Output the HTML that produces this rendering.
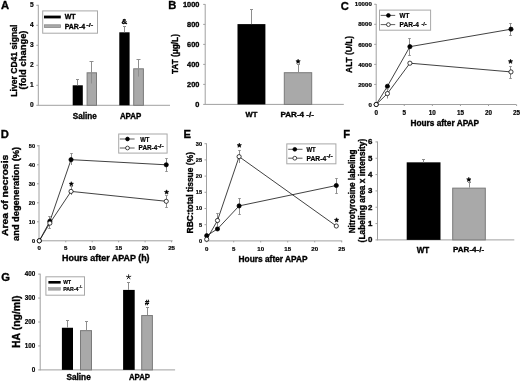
<!DOCTYPE html>
<html><head><meta charset="utf-8"><style>
html,body{margin:0;padding:0;background:#fff;width:520px;height:381px;overflow:hidden}
svg{display:block}
text{font-family:"Liberation Sans", sans-serif;stroke:#000;stroke-width:0.34px;paint-order:stroke}
svg{will-change:transform;filter:blur(0.3px)}
</style></head><body>
<svg width="520" height="381" viewBox="0 0 520 381">
<rect width="520" height="381" fill="#fff"/>
<text x="0.9" y="9.11" font-size="11.2" text-anchor="start" font-weight="bold" fill="#000">A</text>
<line x1="38.3" y1="4.8" x2="38.3" y2="105.8" stroke="#a0a0a0" stroke-width="1"/>
<line x1="38.3" y1="105.3" x2="170" y2="105.3" stroke="#a0a0a0" stroke-width="1"/>
<line x1="36.3" y1="105.3" x2="38.3" y2="105.3" stroke="#a0a0a0" stroke-width="1"/>
<text x="33.6" y="107.06" font-size="6.6" text-anchor="end" font-weight="bold" fill="#000" style="stroke-width:0.2px">0</text>
<line x1="36.3" y1="85.3" x2="38.3" y2="85.3" stroke="#a0a0a0" stroke-width="1"/>
<text x="33.6" y="87.06" font-size="6.6" text-anchor="end" font-weight="bold" fill="#000" style="stroke-width:0.2px">1</text>
<line x1="36.3" y1="65.3" x2="38.3" y2="65.3" stroke="#a0a0a0" stroke-width="1"/>
<text x="33.6" y="67.06" font-size="6.6" text-anchor="end" font-weight="bold" fill="#000" style="stroke-width:0.2px">2</text>
<line x1="36.3" y1="45.3" x2="38.3" y2="45.3" stroke="#a0a0a0" stroke-width="1"/>
<text x="33.6" y="47.06" font-size="6.6" text-anchor="end" font-weight="bold" fill="#000" style="stroke-width:0.2px">3</text>
<line x1="36.3" y1="25.3" x2="38.3" y2="25.3" stroke="#a0a0a0" stroke-width="1"/>
<text x="33.6" y="27.06" font-size="6.6" text-anchor="end" font-weight="bold" fill="#000" style="stroke-width:0.2px">4</text>
<line x1="36.3" y1="5.3" x2="38.3" y2="5.3" stroke="#a0a0a0" stroke-width="1"/>
<text x="33.6" y="7.06" font-size="6.6" text-anchor="end" font-weight="bold" fill="#000" style="stroke-width:0.2px">5</text>
<rect x="72.7" y="85.3" width="10.1" height="20" fill="#000"/>
<line x1="77.5" y1="79.5" x2="77.5" y2="85.3" stroke="#8e8e8e" stroke-width="1"/>
<line x1="76" y1="79.5" x2="79" y2="79.5" stroke="#8e8e8e" stroke-width="1"/>
<rect x="87.1" y="72.8" width="9.4" height="32.5" fill="#a9a9a9" stroke="#7a7a7a" stroke-width="1"/>
<line x1="91.5" y1="61.5" x2="91.5" y2="83.5" stroke="#8e8e8e" stroke-width="1"/>
<line x1="89.5" y1="61.5" x2="93.5" y2="61.5" stroke="#8e8e8e" stroke-width="1"/>
<rect x="119.3" y="32.3" width="10.3" height="73" fill="#000"/>
<line x1="124.5" y1="26.5" x2="124.5" y2="32.3" stroke="#8e8e8e" stroke-width="1"/>
<line x1="123" y1="26.5" x2="126" y2="26.5" stroke="#8e8e8e" stroke-width="1"/>
<rect x="133.7" y="68.8" width="9.7" height="36.5" fill="#a9a9a9" stroke="#7a7a7a" stroke-width="1"/>
<line x1="138.5" y1="59.5" x2="138.5" y2="76.6" stroke="#8e8e8e" stroke-width="1"/>
<line x1="136.5" y1="59.5" x2="140.5" y2="59.5" stroke="#8e8e8e" stroke-width="1"/>
<text x="124.4" y="24.43" font-size="7.9" text-anchor="middle" font-weight="bold" fill="#000">&amp;</text>
<rect x="42.7" y="10.9" width="54.8" height="22.3" fill="#fff" stroke="#a8a8a8" stroke-width="1"/>
<rect x="44" y="15.6" width="16.8" height="2.8" fill="#000"/>
<rect x="44.4" y="24.8" width="16" height="2.8" fill="#a9a9a9" stroke="#8a8a8a" stroke-width="0.8"/>
<text x="64.7" y="19.31" font-size="7.3" text-anchor="start" font-weight="bold" fill="#000" textLength="11" lengthAdjust="spacingAndGlyphs">WT</text>
<text x="64.7" y="28.81" font-size="7.3" text-anchor="start" font-weight="bold" fill="#000" textLength="20.4" lengthAdjust="spacingAndGlyphs">PAR-4</text>
<text x="86.3" y="27.3" font-size="5.6" text-anchor="start" font-weight="bold" fill="#000" textLength="7" lengthAdjust="spacingAndGlyphs" style="stroke-width:0.2px">-/-</text>
<text x="84.8" y="119.14" font-size="8.2" text-anchor="middle" font-weight="bold" fill="#000" textLength="24" lengthAdjust="spacingAndGlyphs">Saline</text>
<text x="130.6" y="119.14" font-size="8.2" text-anchor="middle" font-weight="bold" fill="#000" textLength="21.4" lengthAdjust="spacingAndGlyphs">APAP</text>
<text transform="translate(17.2,60.7) rotate(-90)" x="0" y="0" font-size="9.4" text-anchor="middle" font-weight="bold" textLength="72" lengthAdjust="spacingAndGlyphs">Liver CD41 signal</text>
<text transform="translate(25.6,60) rotate(-90)" x="0" y="0" font-size="9.4" text-anchor="middle" font-weight="bold" textLength="59" lengthAdjust="spacingAndGlyphs">(fold change)</text>
<text x="168.3" y="9.11" font-size="11.2" text-anchor="start" font-weight="bold" fill="#000">B</text>
<line x1="205.2" y1="4.2" x2="205.2" y2="104.9" stroke="#a0a0a0" stroke-width="1"/>
<line x1="205.2" y1="104.4" x2="343.8" y2="104.4" stroke="#a0a0a0" stroke-width="1"/>
<line x1="203.2" y1="104.4" x2="205.2" y2="104.4" stroke="#a0a0a0" stroke-width="1"/>
<text x="199.4" y="106.96" font-size="8" text-anchor="end" font-weight="bold" fill="#000" textLength="4.11" lengthAdjust="spacingAndGlyphs">0</text>
<line x1="203.2" y1="84.4" x2="205.2" y2="84.4" stroke="#a0a0a0" stroke-width="1"/>
<text x="199.4" y="86.96" font-size="8" text-anchor="end" font-weight="bold" fill="#000" textLength="12.34" lengthAdjust="spacingAndGlyphs">200</text>
<line x1="203.2" y1="64.4" x2="205.2" y2="64.4" stroke="#a0a0a0" stroke-width="1"/>
<text x="199.4" y="66.96" font-size="8" text-anchor="end" font-weight="bold" fill="#000" textLength="12.34" lengthAdjust="spacingAndGlyphs">400</text>
<line x1="203.2" y1="44.4" x2="205.2" y2="44.4" stroke="#a0a0a0" stroke-width="1"/>
<text x="199.4" y="46.96" font-size="8" text-anchor="end" font-weight="bold" fill="#000" textLength="12.34" lengthAdjust="spacingAndGlyphs">600</text>
<line x1="203.2" y1="24.4" x2="205.2" y2="24.4" stroke="#a0a0a0" stroke-width="1"/>
<text x="199.4" y="26.96" font-size="8" text-anchor="end" font-weight="bold" fill="#000" textLength="12.34" lengthAdjust="spacingAndGlyphs">800</text>
<line x1="203.2" y1="4.4" x2="205.2" y2="4.4" stroke="#a0a0a0" stroke-width="1"/>
<text x="199.4" y="6.96" font-size="8" text-anchor="end" font-weight="bold" fill="#000" textLength="16.46" lengthAdjust="spacingAndGlyphs">1000</text>
<rect x="237.5" y="24.1" width="27.9" height="80.3" fill="#000"/>
<line x1="251.5" y1="9.5" x2="251.5" y2="24.1" stroke="#8e8e8e" stroke-width="1"/>
<line x1="250" y1="9.5" x2="253" y2="9.5" stroke="#8e8e8e" stroke-width="1"/>
<rect x="284.3" y="72.7" width="27.4" height="31.7" fill="#a9a9a9" stroke="#7a7a7a" stroke-width="1"/>
<line x1="298.5" y1="64.5" x2="298.5" y2="72.2" stroke="#8e8e8e" stroke-width="1"/>
<line x1="297" y1="64.5" x2="300" y2="64.5" stroke="#8e8e8e" stroke-width="1"/>
<polygon points="298.1,59.15 298.75,60.61 300.33,60.77 299.15,61.84 299.48,63.4 298.1,62.6 296.72,63.4 297.05,61.84 295.87,60.77 297.45,60.61" fill="#000" stroke="#000" stroke-width="0.5" stroke-linejoin="round"/>
<text x="251.5" y="116.82" font-size="7.6" text-anchor="middle" font-weight="bold" fill="#000">WT</text>
<text x="297.2" y="116.82" font-size="7.6" text-anchor="middle" font-weight="bold" fill="#000" textLength="33.5" lengthAdjust="spacingAndGlyphs">PAR-4 -/-</text>
<text transform="translate(178.2,54.1) rotate(-90)" x="0" y="0" font-size="8.6" text-anchor="middle" font-weight="bold" textLength="40" lengthAdjust="spacingAndGlyphs">TAT (μg/L)</text>
<text x="340.7" y="9.51" font-size="11.2" text-anchor="start" font-weight="bold" fill="#000">C</text>
<line x1="376.2" y1="4" x2="376.2" y2="105" stroke="#a0a0a0" stroke-width="1"/>
<line x1="376.2" y1="104.5" x2="516.4" y2="104.5" stroke="#a0a0a0" stroke-width="1"/>
<line x1="374.2" y1="104.5" x2="376.2" y2="104.5" stroke="#a0a0a0" stroke-width="1"/>
<text x="371.8" y="106.68" font-size="6.1" text-anchor="end" font-weight="bold" fill="#000" style="stroke-width:0.2px">0</text>
<line x1="374.2" y1="84.45" x2="376.2" y2="84.45" stroke="#a0a0a0" stroke-width="1"/>
<text x="371.8" y="86.63" font-size="6.1" text-anchor="end" font-weight="bold" fill="#000" style="stroke-width:0.2px">2000</text>
<line x1="374.2" y1="64.4" x2="376.2" y2="64.4" stroke="#a0a0a0" stroke-width="1"/>
<text x="371.8" y="66.58" font-size="6.1" text-anchor="end" font-weight="bold" fill="#000" style="stroke-width:0.2px">4000</text>
<line x1="374.2" y1="44.35" x2="376.2" y2="44.35" stroke="#a0a0a0" stroke-width="1"/>
<text x="371.8" y="46.53" font-size="6.1" text-anchor="end" font-weight="bold" fill="#000" style="stroke-width:0.2px">6000</text>
<line x1="374.2" y1="24.3" x2="376.2" y2="24.3" stroke="#a0a0a0" stroke-width="1"/>
<text x="371.8" y="26.48" font-size="6.1" text-anchor="end" font-weight="bold" fill="#000" style="stroke-width:0.2px">8000</text>
<line x1="374.2" y1="4.25" x2="376.2" y2="4.25" stroke="#a0a0a0" stroke-width="1"/>
<text x="371.8" y="6.43" font-size="6.1" text-anchor="end" font-weight="bold" fill="#000" style="stroke-width:0.2px">10000</text>
<line x1="376.2" y1="104.5" x2="376.2" y2="106" stroke="#a0a0a0" stroke-width="1"/>
<text x="376.2" y="115.26" font-size="6.3" text-anchor="middle" font-weight="bold" fill="#000" style="stroke-width:0.2px">0</text>
<line x1="404.28" y1="104.5" x2="404.28" y2="106" stroke="#a0a0a0" stroke-width="1"/>
<text x="404.28" y="115.26" font-size="6.3" text-anchor="middle" font-weight="bold" fill="#000" style="stroke-width:0.2px">5</text>
<line x1="432.36" y1="104.5" x2="432.36" y2="106" stroke="#a0a0a0" stroke-width="1"/>
<text x="432.36" y="115.26" font-size="6.3" text-anchor="middle" font-weight="bold" fill="#000" style="stroke-width:0.2px">10</text>
<line x1="460.44" y1="104.5" x2="460.44" y2="106" stroke="#a0a0a0" stroke-width="1"/>
<text x="460.44" y="115.26" font-size="6.3" text-anchor="middle" font-weight="bold" fill="#000" style="stroke-width:0.2px">15</text>
<line x1="488.52" y1="104.5" x2="488.52" y2="106" stroke="#a0a0a0" stroke-width="1"/>
<text x="488.52" y="115.26" font-size="6.3" text-anchor="middle" font-weight="bold" fill="#000" style="stroke-width:0.2px">20</text>
<line x1="516.6" y1="104.5" x2="516.6" y2="106" stroke="#a0a0a0" stroke-width="1"/>
<text x="516.6" y="115.26" font-size="6.3" text-anchor="middle" font-weight="bold" fill="#000" style="stroke-width:0.2px">25</text>
<text x="444.8" y="126.01" font-size="8.4" text-anchor="middle" font-weight="bold" fill="#000" textLength="68.6" lengthAdjust="spacingAndGlyphs">Hours after APAP</text>
<text transform="translate(351.8,54.4) rotate(-90)" x="0" y="0" font-size="9" text-anchor="middle" font-weight="bold" textLength="37" lengthAdjust="spacingAndGlyphs">ALT (U/L)</text>
<line x1="409.5" y1="38.5" x2="409.5" y2="55.5" stroke="#8e8e8e" stroke-width="1"/>
<line x1="408.25" y1="38.5" x2="410.75" y2="38.5" stroke="#8e8e8e" stroke-width="1"/>
<line x1="408.25" y1="55.5" x2="410.75" y2="55.5" stroke="#8e8e8e" stroke-width="1"/>
<line x1="510.5" y1="23.5" x2="510.5" y2="35.5" stroke="#8e8e8e" stroke-width="1"/>
<line x1="509.25" y1="23.5" x2="511.75" y2="23.5" stroke="#8e8e8e" stroke-width="1"/>
<line x1="509.25" y1="35.5" x2="511.75" y2="35.5" stroke="#8e8e8e" stroke-width="1"/>
<line x1="510.5" y1="66.5" x2="510.5" y2="78.5" stroke="#8e8e8e" stroke-width="1"/>
<line x1="509.25" y1="66.5" x2="511.75" y2="66.5" stroke="#8e8e8e" stroke-width="1"/>
<line x1="509.25" y1="78.5" x2="511.75" y2="78.5" stroke="#8e8e8e" stroke-width="1"/>
<line x1="387.5" y1="89.5" x2="387.5" y2="98.5" stroke="#8e8e8e" stroke-width="1"/>
<line x1="386.5" y1="89.5" x2="388.5" y2="89.5" stroke="#8e8e8e" stroke-width="1"/>
<polyline points="376.2,104.5 387.43,86.25 409.9,46.66 510.98,29.21" fill="none" stroke="#111" stroke-width="0.8"/>
<polyline points="376.2,104.5 387.43,93.57 409.9,63.2 510.98,71.92" fill="none" stroke="#111" stroke-width="0.8"/>
<circle cx="376.2" cy="104.5" r="2.1" fill="#000" stroke="#000" stroke-width="0.75"/>
<circle cx="387.43" cy="86.25" r="2.1" fill="#000" stroke="#000" stroke-width="0.75"/>
<circle cx="409.9" cy="46.66" r="2.1" fill="#000" stroke="#000" stroke-width="0.75"/>
<circle cx="510.98" cy="29.21" r="2.1" fill="#000" stroke="#000" stroke-width="0.75"/>
<circle cx="376.2" cy="104.5" r="2.1" fill="#fff" stroke="#000" stroke-width="0.75"/>
<circle cx="387.43" cy="93.57" r="2.1" fill="#fff" stroke="#000" stroke-width="0.75"/>
<circle cx="409.9" cy="63.2" r="2.1" fill="#fff" stroke="#000" stroke-width="0.75"/>
<circle cx="510.98" cy="71.92" r="2.1" fill="#fff" stroke="#000" stroke-width="0.75"/>
<polygon points="510.5,59.15 511.15,60.61 512.73,60.77 511.55,61.84 511.88,63.4 510.5,62.6 509.12,63.4 509.45,61.84 508.27,60.77 509.85,60.61" fill="#000" stroke="#000" stroke-width="0.5" stroke-linejoin="round"/>
<rect x="379.5" y="10.1" width="51.1" height="20.1" fill="#fff" stroke="#a8a8a8" stroke-width="1"/>
<line x1="380.7" y1="15.4" x2="395.2" y2="15.4" stroke="#333" stroke-width="0.8"/>
<circle cx="388.4" cy="15.4" r="1.9" fill="#000" stroke="#000" stroke-width="0.7"/>
<line x1="380.7" y1="24.6" x2="395.2" y2="24.6" stroke="#333" stroke-width="0.8"/>
<circle cx="388.4" cy="24.6" r="1.9" fill="#fff" stroke="#000" stroke-width="0.7"/>
<text x="399.6" y="17.86" font-size="6.6" text-anchor="start" font-weight="bold" fill="#000" textLength="9.8" lengthAdjust="spacingAndGlyphs" style="stroke-width:0.2px">WT</text>
<text x="399.6" y="27.26" font-size="6.6" text-anchor="start" font-weight="bold" fill="#000" textLength="19.2" lengthAdjust="spacingAndGlyphs" style="stroke-width:0.2px">PAR-4</text>
<text x="421.5" y="25.79" font-size="5" text-anchor="start" font-weight="bold" fill="#000" textLength="5.2" lengthAdjust="spacingAndGlyphs" style="stroke-width:0.2px">-/-</text>
<text x="0.8" y="138.11" font-size="11.2" text-anchor="start" font-weight="bold" fill="#000">D</text>
<line x1="39" y1="145" x2="39" y2="241.3" stroke="#a0a0a0" stroke-width="1"/>
<line x1="39" y1="240.8" x2="172.6" y2="240.8" stroke="#a0a0a0" stroke-width="1"/>
<line x1="37" y1="240.8" x2="39" y2="240.8" stroke="#a0a0a0" stroke-width="1"/>
<text x="35" y="243" font-size="5.6" text-anchor="end" font-weight="bold" fill="#000" style="stroke-width:0.2px">0</text>
<line x1="37" y1="221.8" x2="39" y2="221.8" stroke="#a0a0a0" stroke-width="1"/>
<text x="35" y="224" font-size="5.6" text-anchor="end" font-weight="bold" fill="#000" style="stroke-width:0.2px">10</text>
<line x1="37" y1="202.8" x2="39" y2="202.8" stroke="#a0a0a0" stroke-width="1"/>
<text x="35" y="205" font-size="5.6" text-anchor="end" font-weight="bold" fill="#000" style="stroke-width:0.2px">20</text>
<line x1="37" y1="183.8" x2="39" y2="183.8" stroke="#a0a0a0" stroke-width="1"/>
<text x="35" y="186" font-size="5.6" text-anchor="end" font-weight="bold" fill="#000" style="stroke-width:0.2px">30</text>
<line x1="37" y1="164.8" x2="39" y2="164.8" stroke="#a0a0a0" stroke-width="1"/>
<text x="35" y="167" font-size="5.6" text-anchor="end" font-weight="bold" fill="#000" style="stroke-width:0.2px">40</text>
<line x1="37" y1="145.8" x2="39" y2="145.8" stroke="#a0a0a0" stroke-width="1"/>
<text x="35" y="148" font-size="5.6" text-anchor="end" font-weight="bold" fill="#000" style="stroke-width:0.2px">50</text>
<line x1="39.3" y1="240.8" x2="39.3" y2="242.3" stroke="#a0a0a0" stroke-width="1"/>
<text x="39.3" y="250.28" font-size="6.1" text-anchor="middle" font-weight="bold" fill="#000" style="stroke-width:0.2px">0</text>
<line x1="65.75" y1="240.8" x2="65.75" y2="242.3" stroke="#a0a0a0" stroke-width="1"/>
<text x="65.75" y="250.28" font-size="6.1" text-anchor="middle" font-weight="bold" fill="#000" style="stroke-width:0.2px">5</text>
<line x1="92.2" y1="240.8" x2="92.2" y2="242.3" stroke="#a0a0a0" stroke-width="1"/>
<text x="92.2" y="250.28" font-size="6.1" text-anchor="middle" font-weight="bold" fill="#000" style="stroke-width:0.2px">10</text>
<line x1="118.65" y1="240.8" x2="118.65" y2="242.3" stroke="#a0a0a0" stroke-width="1"/>
<text x="118.65" y="250.28" font-size="6.1" text-anchor="middle" font-weight="bold" fill="#000" style="stroke-width:0.2px">15</text>
<line x1="145.1" y1="240.8" x2="145.1" y2="242.3" stroke="#a0a0a0" stroke-width="1"/>
<text x="145.1" y="250.28" font-size="6.1" text-anchor="middle" font-weight="bold" fill="#000" style="stroke-width:0.2px">20</text>
<line x1="171.55" y1="240.8" x2="171.55" y2="242.3" stroke="#a0a0a0" stroke-width="1"/>
<text x="171.55" y="250.28" font-size="6.1" text-anchor="middle" font-weight="bold" fill="#000" style="stroke-width:0.2px">25</text>
<text x="105.8" y="260.81" font-size="8.4" text-anchor="middle" font-weight="bold" fill="#000" textLength="87.6" lengthAdjust="spacingAndGlyphs">Hours after APAP (h)</text>
<text transform="translate(8.3,195.4) rotate(-90)" x="0" y="0" font-size="8.6" text-anchor="middle" font-weight="bold" textLength="81.4" lengthAdjust="spacingAndGlyphs">Area of necrosis</text>
<text transform="translate(18.8,193.9) rotate(-90)" x="0" y="0" font-size="8.6" text-anchor="middle" font-weight="bold" textLength="94" lengthAdjust="spacingAndGlyphs">and degeneration (%)</text>
<line x1="71.5" y1="153.5" x2="71.5" y2="165" stroke="#8e8e8e" stroke-width="1"/>
<line x1="70.25" y1="153.5" x2="72.75" y2="153.5" stroke="#8e8e8e" stroke-width="1"/>
<line x1="166.5" y1="158.5" x2="166.5" y2="171.5" stroke="#8e8e8e" stroke-width="1"/>
<line x1="165.25" y1="158.5" x2="167.75" y2="158.5" stroke="#8e8e8e" stroke-width="1"/>
<line x1="165.25" y1="171.5" x2="167.75" y2="171.5" stroke="#8e8e8e" stroke-width="1"/>
<line x1="166.5" y1="195.5" x2="166.5" y2="207.5" stroke="#8e8e8e" stroke-width="1"/>
<line x1="165.25" y1="195.5" x2="167.75" y2="195.5" stroke="#8e8e8e" stroke-width="1"/>
<line x1="165.25" y1="207.5" x2="167.75" y2="207.5" stroke="#8e8e8e" stroke-width="1"/>
<line x1="71.5" y1="186.5" x2="71.5" y2="195" stroke="#8e8e8e" stroke-width="1"/>
<line x1="70.25" y1="186.5" x2="72.75" y2="186.5" stroke="#8e8e8e" stroke-width="1"/>
<line x1="49.5" y1="216.5" x2="49.5" y2="228.5" stroke="#8e8e8e" stroke-width="1"/>
<line x1="48.25" y1="216.5" x2="50.75" y2="216.5" stroke="#8e8e8e" stroke-width="1"/>
<line x1="48.25" y1="228.5" x2="50.75" y2="228.5" stroke="#8e8e8e" stroke-width="1"/>
<polyline points="39.3,240.8 49.88,221.23 71.04,159.67 166.26,164.8" fill="none" stroke="#111" stroke-width="0.8"/>
<polyline points="39.3,240.8 49.88,223.13 71.04,191.4 166.26,201.28" fill="none" stroke="#111" stroke-width="0.8"/>
<circle cx="39.3" cy="240.8" r="2.1" fill="#000" stroke="#000" stroke-width="0.75"/>
<circle cx="49.88" cy="221.23" r="2.1" fill="#000" stroke="#000" stroke-width="0.75"/>
<circle cx="71.04" cy="159.67" r="2.1" fill="#000" stroke="#000" stroke-width="0.75"/>
<circle cx="166.26" cy="164.8" r="2.1" fill="#000" stroke="#000" stroke-width="0.75"/>
<circle cx="39.3" cy="240.8" r="2.1" fill="#fff" stroke="#000" stroke-width="0.75"/>
<circle cx="49.88" cy="223.13" r="2.1" fill="#fff" stroke="#000" stroke-width="0.75"/>
<circle cx="71.04" cy="191.4" r="2.1" fill="#fff" stroke="#000" stroke-width="0.75"/>
<circle cx="166.26" cy="201.28" r="2.1" fill="#fff" stroke="#000" stroke-width="0.75"/>
<polygon points="71.3,181.65 71.95,183.11 73.53,183.27 72.35,184.34 72.68,185.9 71.3,185.1 69.92,185.9 70.25,184.34 69.07,183.27 70.65,183.11" fill="#000" stroke="#000" stroke-width="0.5" stroke-linejoin="round"/>
<polygon points="166.6,189.85 167.25,191.31 168.83,191.47 167.65,192.54 167.98,194.1 166.6,193.3 165.22,194.1 165.55,192.54 164.37,191.47 165.95,191.31" fill="#000" stroke="#000" stroke-width="0.5" stroke-linejoin="round"/>
<rect x="118.7" y="134" width="48.4" height="19.1" fill="#fff" stroke="#a8a8a8" stroke-width="1"/>
<line x1="119.8" y1="139" x2="134.6" y2="139" stroke="#333" stroke-width="0.8"/>
<circle cx="127.5" cy="139" r="1.9" fill="#000" stroke="#000" stroke-width="0.7"/>
<line x1="119.8" y1="148" x2="134.6" y2="148" stroke="#333" stroke-width="0.8"/>
<circle cx="127.5" cy="148" r="1.9" fill="#fff" stroke="#000" stroke-width="0.7"/>
<text x="140.2" y="141.63" font-size="6.5" text-anchor="start" font-weight="bold" fill="#000" textLength="9.2" lengthAdjust="spacingAndGlyphs" style="stroke-width:0.2px">WT</text>
<text x="138.6" y="150.43" font-size="6.5" text-anchor="start" font-weight="bold" fill="#000" textLength="18.7" lengthAdjust="spacingAndGlyphs" style="stroke-width:0.2px">PAR-4</text>
<text x="157.4" y="148.02" font-size="4.8" text-anchor="start" font-weight="bold" fill="#000" textLength="6.3" lengthAdjust="spacingAndGlyphs" style="stroke-width:0.2px">-/-</text>
<text x="183.4" y="137.81" font-size="11.2" text-anchor="start" font-weight="bold" fill="#000">E</text>
<line x1="206.5" y1="143.3" x2="206.5" y2="241.4" stroke="#a0a0a0" stroke-width="1"/>
<line x1="206.5" y1="240.9" x2="342.2" y2="240.9" stroke="#a0a0a0" stroke-width="1"/>
<line x1="204.5" y1="240.9" x2="206.5" y2="240.9" stroke="#a0a0a0" stroke-width="1"/>
<text x="202" y="242.8" font-size="5.6" text-anchor="end" font-weight="bold" fill="#000" style="stroke-width:0.2px">0</text>
<line x1="204.5" y1="224.7" x2="206.5" y2="224.7" stroke="#a0a0a0" stroke-width="1"/>
<text x="202" y="226.6" font-size="5.6" text-anchor="end" font-weight="bold" fill="#000" style="stroke-width:0.2px">5</text>
<line x1="204.5" y1="208.5" x2="206.5" y2="208.5" stroke="#a0a0a0" stroke-width="1"/>
<text x="202" y="210.4" font-size="5.6" text-anchor="end" font-weight="bold" fill="#000" style="stroke-width:0.2px">10</text>
<line x1="204.5" y1="192.3" x2="206.5" y2="192.3" stroke="#a0a0a0" stroke-width="1"/>
<text x="202" y="194.2" font-size="5.6" text-anchor="end" font-weight="bold" fill="#000" style="stroke-width:0.2px">15</text>
<line x1="204.5" y1="176.1" x2="206.5" y2="176.1" stroke="#a0a0a0" stroke-width="1"/>
<text x="202" y="178" font-size="5.6" text-anchor="end" font-weight="bold" fill="#000" style="stroke-width:0.2px">20</text>
<line x1="204.5" y1="159.9" x2="206.5" y2="159.9" stroke="#a0a0a0" stroke-width="1"/>
<text x="202" y="161.8" font-size="5.6" text-anchor="end" font-weight="bold" fill="#000" style="stroke-width:0.2px">25</text>
<line x1="204.5" y1="143.7" x2="206.5" y2="143.7" stroke="#a0a0a0" stroke-width="1"/>
<text x="202" y="145.6" font-size="5.6" text-anchor="end" font-weight="bold" fill="#000" style="stroke-width:0.2px">30</text>
<line x1="206.7" y1="240.9" x2="206.7" y2="242.4" stroke="#a0a0a0" stroke-width="1"/>
<text x="206.7" y="251.18" font-size="6.1" text-anchor="middle" font-weight="bold" fill="#000" style="stroke-width:0.2px">0</text>
<line x1="233.7" y1="240.9" x2="233.7" y2="242.4" stroke="#a0a0a0" stroke-width="1"/>
<text x="233.7" y="251.18" font-size="6.1" text-anchor="middle" font-weight="bold" fill="#000" style="stroke-width:0.2px">5</text>
<line x1="260.7" y1="240.9" x2="260.7" y2="242.4" stroke="#a0a0a0" stroke-width="1"/>
<text x="260.7" y="251.18" font-size="6.1" text-anchor="middle" font-weight="bold" fill="#000" style="stroke-width:0.2px">10</text>
<line x1="287.7" y1="240.9" x2="287.7" y2="242.4" stroke="#a0a0a0" stroke-width="1"/>
<text x="287.7" y="251.18" font-size="6.1" text-anchor="middle" font-weight="bold" fill="#000" style="stroke-width:0.2px">15</text>
<line x1="314.7" y1="240.9" x2="314.7" y2="242.4" stroke="#a0a0a0" stroke-width="1"/>
<text x="314.7" y="251.18" font-size="6.1" text-anchor="middle" font-weight="bold" fill="#000" style="stroke-width:0.2px">20</text>
<line x1="341.7" y1="240.9" x2="341.7" y2="242.4" stroke="#a0a0a0" stroke-width="1"/>
<text x="341.7" y="251.18" font-size="6.1" text-anchor="middle" font-weight="bold" fill="#000" style="stroke-width:0.2px">25</text>
<text x="273.1" y="261.61" font-size="8.4" text-anchor="middle" font-weight="bold" fill="#000" textLength="69" lengthAdjust="spacingAndGlyphs">Hours after APAP</text>
<text transform="translate(192.8,192.7) rotate(-90)" x="0" y="0" font-size="8.5" text-anchor="middle" font-weight="bold" textLength="81.5" lengthAdjust="spacingAndGlyphs">RBC:total tissue (%)</text>
<line x1="239.5" y1="198.5" x2="239.5" y2="214.5" stroke="#8e8e8e" stroke-width="1"/>
<line x1="238.25" y1="198.5" x2="240.75" y2="198.5" stroke="#8e8e8e" stroke-width="1"/>
<line x1="238.25" y1="214.5" x2="240.75" y2="214.5" stroke="#8e8e8e" stroke-width="1"/>
<line x1="336.5" y1="178.5" x2="336.5" y2="193.5" stroke="#8e8e8e" stroke-width="1"/>
<line x1="335.25" y1="178.5" x2="337.75" y2="178.5" stroke="#8e8e8e" stroke-width="1"/>
<line x1="335.25" y1="193.5" x2="337.75" y2="193.5" stroke="#8e8e8e" stroke-width="1"/>
<line x1="217.5" y1="213.5" x2="217.5" y2="226" stroke="#8e8e8e" stroke-width="1"/>
<line x1="216.25" y1="213.5" x2="218.75" y2="213.5" stroke="#8e8e8e" stroke-width="1"/>
<line x1="239.5" y1="150.5" x2="239.5" y2="163" stroke="#8e8e8e" stroke-width="1"/>
<line x1="238.25" y1="150.5" x2="240.75" y2="150.5" stroke="#8e8e8e" stroke-width="1"/>
<polyline points="206.7,235.72 217.5,228.91 239.1,205.91 336.3,185.5" fill="none" stroke="#111" stroke-width="0.8"/>
<polyline points="206.7,239.28 217.5,220.49 239.1,156.66 336.3,226" fill="none" stroke="#111" stroke-width="0.8"/>
<circle cx="206.7" cy="235.72" r="2.1" fill="#000" stroke="#000" stroke-width="0.75"/>
<circle cx="217.5" cy="228.91" r="2.1" fill="#000" stroke="#000" stroke-width="0.75"/>
<circle cx="239.1" cy="205.91" r="2.1" fill="#000" stroke="#000" stroke-width="0.75"/>
<circle cx="336.3" cy="185.5" r="2.1" fill="#000" stroke="#000" stroke-width="0.75"/>
<circle cx="206.7" cy="239.28" r="2.1" fill="#fff" stroke="#000" stroke-width="0.75"/>
<circle cx="217.5" cy="220.49" r="2.1" fill="#fff" stroke="#000" stroke-width="0.75"/>
<circle cx="239.1" cy="156.66" r="2.1" fill="#fff" stroke="#000" stroke-width="0.75"/>
<circle cx="336.3" cy="226" r="2.1" fill="#fff" stroke="#000" stroke-width="0.75"/>
<polygon points="239.3,143.05 239.95,144.51 241.53,144.67 240.35,145.74 240.68,147.3 239.3,146.5 237.92,147.3 238.25,145.74 237.07,144.67 238.65,144.51" fill="#000" stroke="#000" stroke-width="0.5" stroke-linejoin="round"/>
<polygon points="336.6,217.75 337.25,219.21 338.83,219.37 337.65,220.44 337.98,222 336.6,221.2 335.22,222 335.55,220.44 334.37,219.37 335.95,219.21" fill="#000" stroke="#000" stroke-width="0.5" stroke-linejoin="round"/>
<rect x="286.8" y="143.9" width="49.1" height="19.9" fill="#fff" stroke="#a8a8a8" stroke-width="1"/>
<line x1="288.2" y1="149.3" x2="302.5" y2="149.3" stroke="#333" stroke-width="0.8"/>
<circle cx="294.8" cy="149.3" r="1.9" fill="#000" stroke="#000" stroke-width="0.7"/>
<line x1="288.2" y1="158.2" x2="302.5" y2="158.2" stroke="#333" stroke-width="0.8"/>
<circle cx="294.8" cy="158.2" r="1.9" fill="#fff" stroke="#000" stroke-width="0.7"/>
<text x="306.5" y="151.63" font-size="6.5" text-anchor="start" font-weight="bold" fill="#000" textLength="9.2" lengthAdjust="spacingAndGlyphs" style="stroke-width:0.2px">WT</text>
<text x="306.5" y="160.53" font-size="6.5" text-anchor="start" font-weight="bold" fill="#000" textLength="19.7" lengthAdjust="spacingAndGlyphs" style="stroke-width:0.2px">PAR-4</text>
<text x="326.4" y="158.12" font-size="4.8" text-anchor="start" font-weight="bold" fill="#000" textLength="6.3" lengthAdjust="spacingAndGlyphs" style="stroke-width:0.2px">-/-</text>
<text x="343.2" y="138.11" font-size="11.2" text-anchor="start" font-weight="bold" fill="#000">F</text>
<line x1="377.5" y1="141.5" x2="377.5" y2="240.4" stroke="#a0a0a0" stroke-width="1"/>
<line x1="377.5" y1="239.9" x2="514.3" y2="239.9" stroke="#a0a0a0" stroke-width="1"/>
<line x1="375.5" y1="239.9" x2="377.5" y2="239.9" stroke="#a0a0a0" stroke-width="1"/>
<text x="372.3" y="242.33" font-size="7.9" text-anchor="end" font-weight="bold" fill="#000">0</text>
<line x1="375.5" y1="223.57" x2="377.5" y2="223.57" stroke="#a0a0a0" stroke-width="1"/>
<text x="372.3" y="226" font-size="7.9" text-anchor="end" font-weight="bold" fill="#000">1</text>
<line x1="375.5" y1="207.24" x2="377.5" y2="207.24" stroke="#a0a0a0" stroke-width="1"/>
<text x="372.3" y="209.67" font-size="7.9" text-anchor="end" font-weight="bold" fill="#000">2</text>
<line x1="375.5" y1="190.91" x2="377.5" y2="190.91" stroke="#a0a0a0" stroke-width="1"/>
<text x="372.3" y="193.34" font-size="7.9" text-anchor="end" font-weight="bold" fill="#000">3</text>
<line x1="375.5" y1="174.58" x2="377.5" y2="174.58" stroke="#a0a0a0" stroke-width="1"/>
<text x="372.3" y="177.01" font-size="7.9" text-anchor="end" font-weight="bold" fill="#000">4</text>
<line x1="375.5" y1="158.25" x2="377.5" y2="158.25" stroke="#a0a0a0" stroke-width="1"/>
<text x="372.3" y="160.68" font-size="7.9" text-anchor="end" font-weight="bold" fill="#000">5</text>
<line x1="375.5" y1="141.92" x2="377.5" y2="141.92" stroke="#a0a0a0" stroke-width="1"/>
<text x="372.3" y="144.35" font-size="7.9" text-anchor="end" font-weight="bold" fill="#000">6</text>
<rect x="406.7" y="162.33" width="33.8" height="77.57" fill="#000"/>
<line x1="423.5" y1="159.5" x2="423.5" y2="162.33" stroke="#8e8e8e" stroke-width="1"/>
<line x1="422" y1="159.5" x2="425" y2="159.5" stroke="#8e8e8e" stroke-width="1"/>
<rect x="452.7" y="188.14" width="32.6" height="51.76" fill="#a9a9a9" stroke="#7a7a7a" stroke-width="1"/>
<line x1="469.5" y1="182.5" x2="469.5" y2="187.64" stroke="#8e8e8e" stroke-width="1"/>
<line x1="468" y1="182.5" x2="471" y2="182.5" stroke="#8e8e8e" stroke-width="1"/>
<polygon points="468.8,177.25 469.45,178.71 471.03,178.87 469.85,179.94 470.18,181.5 468.8,180.7 467.42,181.5 467.75,179.94 466.57,178.87 468.15,178.71" fill="#000" stroke="#000" stroke-width="0.5" stroke-linejoin="round"/>
<text x="423" y="252.54" font-size="8.2" text-anchor="middle" font-weight="bold" fill="#000" textLength="12.6" lengthAdjust="spacingAndGlyphs">WT</text>
<text x="468.6" y="252.46" font-size="8" text-anchor="middle" font-weight="bold" fill="#000" textLength="31" lengthAdjust="spacingAndGlyphs">PAR-4-/-</text>
<text transform="translate(354.6,191.4) rotate(-90)" x="0" y="0" font-size="8.4" text-anchor="middle" font-weight="bold" textLength="83.8" lengthAdjust="spacingAndGlyphs">Nitrotyrosine labeling</text>
<text transform="translate(365.3,190.6) rotate(-90)" x="0" y="0" font-size="8.2" text-anchor="middle" font-weight="bold" textLength="103.6" lengthAdjust="spacingAndGlyphs">(Labeling area x intensity)</text>
<text x="1.3" y="280.51" font-size="11.2" text-anchor="start" font-weight="bold" fill="#000">G</text>
<line x1="40.2" y1="273.7" x2="40.2" y2="370.4" stroke="#a0a0a0" stroke-width="1"/>
<line x1="40.2" y1="369.9" x2="175.1" y2="369.9" stroke="#a0a0a0" stroke-width="1"/>
<line x1="38.2" y1="369.9" x2="40.2" y2="369.9" stroke="#a0a0a0" stroke-width="1"/>
<text x="35.2" y="372.16" font-size="6.3" text-anchor="end" font-weight="bold" fill="#000" style="stroke-width:0.2px">0</text>
<line x1="38.2" y1="345.95" x2="40.2" y2="345.95" stroke="#a0a0a0" stroke-width="1"/>
<text x="35.2" y="348.21" font-size="6.3" text-anchor="end" font-weight="bold" fill="#000" style="stroke-width:0.2px">100</text>
<line x1="38.2" y1="322" x2="40.2" y2="322" stroke="#a0a0a0" stroke-width="1"/>
<text x="35.2" y="324.26" font-size="6.3" text-anchor="end" font-weight="bold" fill="#000" style="stroke-width:0.2px">200</text>
<line x1="38.2" y1="298.05" x2="40.2" y2="298.05" stroke="#a0a0a0" stroke-width="1"/>
<text x="35.2" y="300.31" font-size="6.3" text-anchor="end" font-weight="bold" fill="#000" style="stroke-width:0.2px">300</text>
<line x1="38.2" y1="274.1" x2="40.2" y2="274.1" stroke="#a0a0a0" stroke-width="1"/>
<text x="35.2" y="276.36" font-size="6.3" text-anchor="end" font-weight="bold" fill="#000" style="stroke-width:0.2px">400</text>
<rect x="61.9" y="327.75" width="11.1" height="42.15" fill="#000"/>
<line x1="67.5" y1="320.5" x2="67.5" y2="327.75" stroke="#8e8e8e" stroke-width="1"/>
<line x1="66" y1="320.5" x2="69" y2="320.5" stroke="#8e8e8e" stroke-width="1"/>
<rect x="80.5" y="330.64" width="11" height="39.26" fill="#a9a9a9" stroke="#7a7a7a" stroke-width="1"/>
<line x1="86.5" y1="321.5" x2="86.5" y2="330.14" stroke="#8e8e8e" stroke-width="1"/>
<line x1="85" y1="321.5" x2="88" y2="321.5" stroke="#8e8e8e" stroke-width="1"/>
<rect x="123.1" y="289.91" width="11.6" height="79.99" fill="#000"/>
<line x1="128.5" y1="282.5" x2="128.5" y2="289.91" stroke="#8e8e8e" stroke-width="1"/>
<line x1="127" y1="282.5" x2="130" y2="282.5" stroke="#8e8e8e" stroke-width="1"/>
<rect x="141.7" y="315.55" width="10.7" height="54.35" fill="#a9a9a9" stroke="#7a7a7a" stroke-width="1"/>
<line x1="147.5" y1="307.5" x2="147.5" y2="315.05" stroke="#8e8e8e" stroke-width="1"/>
<line x1="146" y1="307.5" x2="149" y2="307.5" stroke="#8e8e8e" stroke-width="1"/>
<path d="M128.6,277L128.6,274.7M128.6,277L130.79,276.29M128.6,277L129.95,278.86M128.6,277L127.25,278.86M128.6,277L126.41,276.29" stroke="#111" stroke-width="0.85" stroke-linecap="round" fill="none"/>
<text x="147" y="305.12" font-size="7.6" text-anchor="middle" font-weight="bold" fill="#000">#</text>
<rect x="45.9" y="276.8" width="38.6" height="18.4" fill="#fff" stroke="#a8a8a8" stroke-width="1"/>
<rect x="48.4" y="281" width="12.3" height="2.6" fill="#000"/>
<rect x="48.6" y="287.6" width="11.9" height="2.6" fill="#a9a9a9" stroke="#999" stroke-width="0.6"/>
<text x="63.2" y="284.17" font-size="5.5" text-anchor="start" font-weight="bold" fill="#000" textLength="7.8" lengthAdjust="spacingAndGlyphs" style="stroke-width:0.2px">WT</text>
<text x="63.2" y="291.17" font-size="5.5" text-anchor="start" font-weight="bold" fill="#000" textLength="15.2" lengthAdjust="spacingAndGlyphs" style="stroke-width:0.2px">PAR-4</text>
<text x="78.6" y="288.33" font-size="4" text-anchor="start" font-weight="bold" fill="#000" style="stroke-width:0.2px">-/-</text>
<text x="78.6" y="380.21" font-size="8.4" text-anchor="middle" font-weight="bold" fill="#000" textLength="24.3" lengthAdjust="spacingAndGlyphs">Saline</text>
<text x="139.5" y="380.21" font-size="8.4" text-anchor="middle" font-weight="bold" fill="#000" textLength="21.2" lengthAdjust="spacingAndGlyphs">APAP</text>
<text transform="translate(19.6,321.7) rotate(-90)" x="0" y="0" font-size="10.8" text-anchor="middle" font-weight="bold" textLength="52.6" lengthAdjust="spacingAndGlyphs">HA (ng/ml)</text>
</svg>
</body></html>
